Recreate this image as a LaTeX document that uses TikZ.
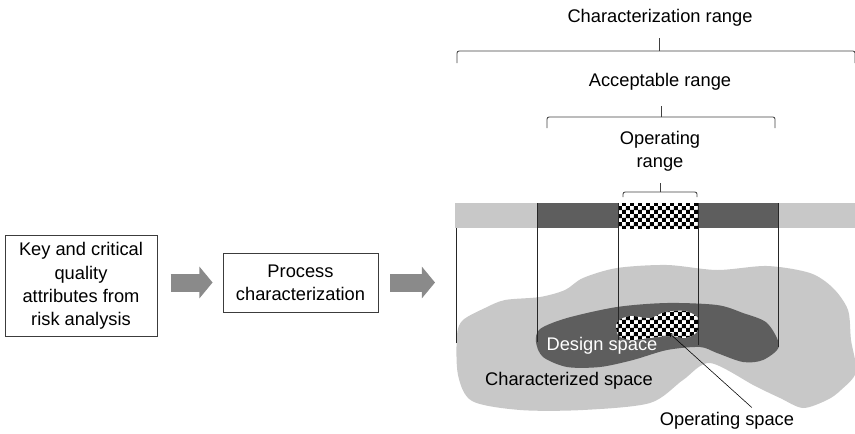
\documentclass[tikz,border=0pt]{standalone}
\usepackage{fontspec}
\setmainfont{Liberation Sans}
\usetikzlibrary{arrows.meta,patterns}

\definecolor{lightgr}{HTML}{C8C8C8}
\definecolor{darkgr}{HTML}{5E5E5E}
\definecolor{arrowgr}{HTML}{8A8A8A}
\definecolor{boxline}{HTML}{3C3C3C}

% 棋盘格图案
\pgfdeclarepatternformonly{checks}{\pgfpointorigin}{\pgfqpoint{5.6pt}{5.6pt}}{\pgfqpoint{5.6pt}{5.6pt}}{
    \pgfpathrectangle{\pgfpointorigin}{\pgfqpoint{2.85pt}{2.85pt}}
    \pgfpathrectangle{\pgfqpoint{2.8pt}{2.8pt}}{\pgfqpoint{2.85pt}{2.85pt}}
    \pgfusepath{fill}
}

\tikzset{
    stepbox/.style={draw=boxline, line width=0.6pt, align=center, inner sep=0pt},
    bigarrow/.style={arrowgr, line width=0.45cm, -{Triangle[length=0.33cm, width=0.78cm]}},
    rangebracket/.style={line width=0.6pt, draw=black!75, rounded corners=1.5pt},
    vline/.style={line width=0.5pt, draw=black!85},
}

\begin{document}
\begin{tikzpicture}[x=0.025cm, y=-0.025cm, font=\fontsize{13}{16.5}\selectfont]
    \useasboundingbox (0,0) rectangle (855,434);

    % 左边两个方框
    \node[stepbox, minimum width=3.8cm, minimum height=2.53cm] (attrs) at (81,286)
        {Key and critical\\quality\\attributes from\\risk analysis};
    \node[stepbox, minimum width=3.875cm, minimum height=1.475cm] (charproc) at (300.5,282.5)
        {Process\\characterization};
    \coordinate (panel) at (455,282.5);

    \draw[bigarrow, shorten <=0.33cm, shorten >=0.25cm] (attrs.east |- charproc.west) -- (charproc.west);
    \draw[bigarrow, shorten <=0.3cm, shorten >=0.5cm] (charproc.east) -- (panel);

    % 上面的带子
    \fill[lightgr] (455,203) rectangle (855,228);
    \fill[darkgr] (537,203) rectangle (778,228);
    \fill[white] (618,203) rectangle (698,228);
    \fill[pattern=checks] (618,203) rectangle (698,228);

    % 三块区域
    \fill[lightgr] plot[smooth cycle, tension=0.5] coordinates {
        (457,335) (463,320) (485,308) (505,300) (540,297) (565,290) (583,278)
        (617,268) (667,265) (717,270) (767,266) (810,273) (833,288) (848,310)
        (851,340) (856,372) (841,390) (827,400) (803,408) (780,398) (755,386)
        (710,363) (683,380) (650,403) (583,410) (520,410) (472,401) (458,375)};
    \fill[darkgr] plot[smooth cycle, tension=0.5] coordinates {
        (540,329) (567,318) (617,307) (667,303) (717,305) (743,313) (767,323)
        (779,346) (763,360) (743,362) (717,353) (700,347) (667,350) (633,360)
        (600,367) (567,367) (543,357) (536,342)};
    \fill[white] plot[smooth cycle, tension=0.5] coordinates {
        (617,322) (630,316) (650,318) (665,312) (685,311) (698,318) (697,332)
        (685,338) (670,336) (650,338) (630,340) (618,335)};
    \fill[pattern=checks] plot[smooth cycle, tension=0.5] coordinates {
        (617,322) (630,316) (650,318) (665,312) (685,311) (698,318) (697,332)
        (685,338) (670,336) (650,338) (630,340) (618,335)};

    % 竖线
    \draw[vline] (456,228) -- (456,343);
    \draw[vline] (537,203) -- (537,342);
    \draw[vline] (618,203) -- (618,340);
    \draw[vline] (698,203) -- (698,345);
    \draw[vline] (778,203) -- (778,347);

    % 文字
    \node[text=white] (designlbl) at (602,346) {Design space};
    \node (charlbl) at (569,381) {Characterized space};
    \node (oplbl) at (727,421) {Operating space};
    \coordinate (optip) at (668,332);
    \draw[line width=0.4pt, -{Stealth[length=4pt, width=3pt]}] ([xshift=0.62cm]oplbl.north) -- (optip);

    % 范围括号
    \node (charrange) at (660,18) {Characterization range};
    \draw[rangebracket] (457,63) -- (457,51) -- (855,51) -- (855,63);
    \draw[rangebracket] (659,51) -- (659,38);
    \node (accrange) at (660,82) {Acceptable range};
    \draw[rangebracket] (547,128) -- (547,117) -- (775,117) -- (775,128);
    \draw[rangebracket] (661,117) -- (661,106);
    \node[align=center] (oprange) at (660,151) {Operating\\range};
    \draw[rangebracket] (623,197) -- (623,192) -- (697,192) -- (697,197);
    \draw[rangebracket] (660,192) -- (660,183);
\end{tikzpicture}
\end{document}
